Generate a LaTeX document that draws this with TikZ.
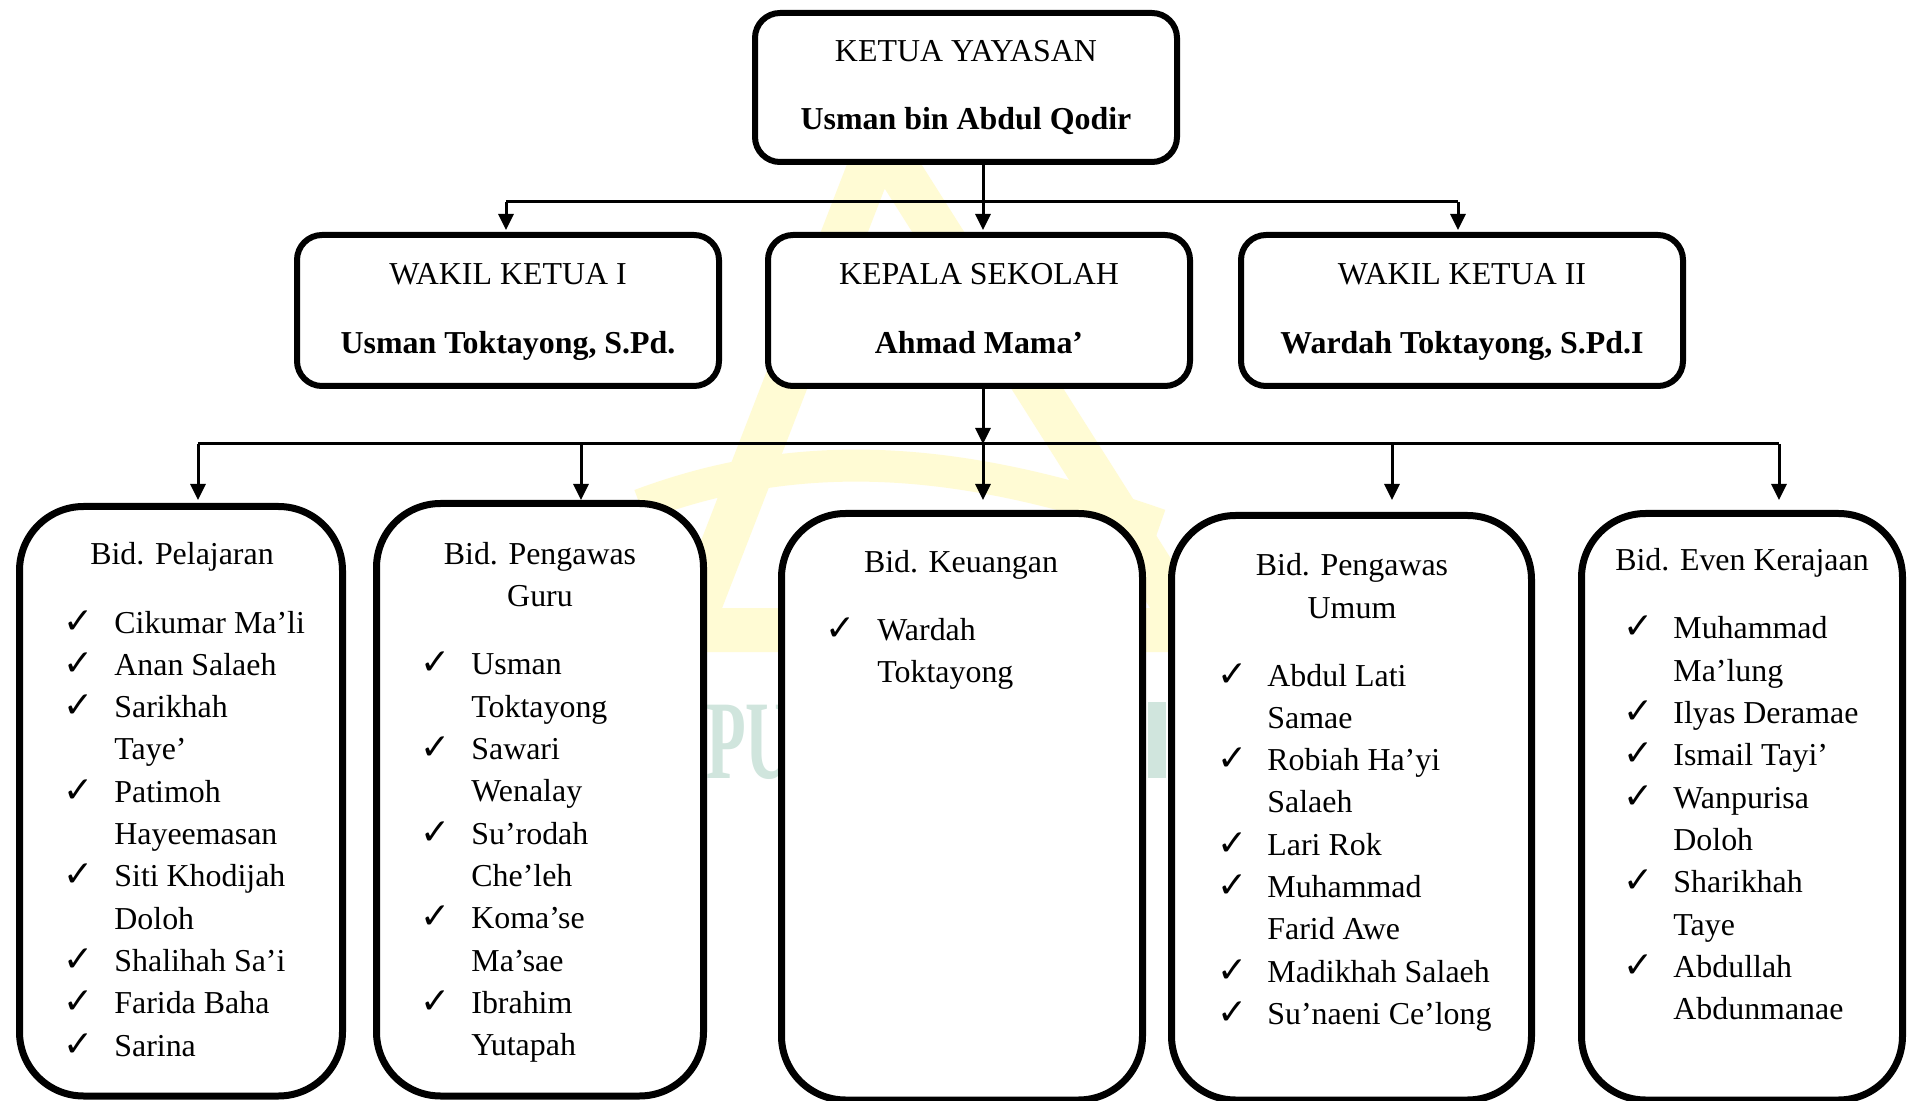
\documentclass[tikz,border=0pt]{standalone}
\usepackage{fontspec}
\setmainfont{Liberation Serif}
\newfontfamily\symf{DejaVu Sans}
\usetikzlibrary{arrows.meta,fit}
\definecolor{wmyellow}{RGB}{255,251,212}
\definecolor{wmteal}{RGB}{208,229,221}
\tikzset{
  box/.style={draw, line width=3pt, rounded corners=12.5pt, fill=white, inner sep=0pt, outer sep=0pt},
  bbox/.style={box, line width=3.5pt, rounded corners=32pt},
  conn/.style={line width=1.5pt},
  arr/.style={conn, -{Triangle[length=8pt,width=7.5pt]}},
  lbl/.style={anchor=base, inner sep=0pt},
  itm/.style={anchor=base west, inner sep=0pt},
  chk/.style={anchor=base west, inner sep=0pt, font=\fontsize{18}{18}\symf},
}
\newcommand\blist[5]{%
  \foreach \c/\t [count=\i] in {#5} {
    \pgfmathsetmacro\yy{#4+(\i-1)*42.3}
    \node[itm] (#1t\i) at (#3,\yy) {\t};
    \ifnum\c=1 \node[chk] (#1c\i) at (#2-4,\yy) {✓};\fi
  }}
\begin{document}
\begin{tikzpicture}[x=0.5pt,y=-0.5pt,font=\fontsize{15.95}{19}\selectfont]
\fill[white] (0,0) rectangle (1918,1101);
\useasboundingbox (0,0) rectangle (1918,1101);
% watermark
\draw[wmyellow, line width=22pt, line join=round] (880,140) -- (1190,630) -- (690,630) -- cycle;
\draw[wmyellow, line width=16pt] (640,505) .. controls (800,445) and (960,455) .. (1160,525);
\node[anchor=base west, inner sep=0pt, text=wmteal, font=\bfseries\fontsize{56}{56}\selectfont, xscale=0.58] (wm) at (706,778) {PU};
\fill[wmteal] (1148,702) rectangle (1166,778);
% connectors level 1
\coordinate (c0) at (983,202);
\coordinate (cL) at (506,202);
\coordinate (cR) at (1458,202);
% boxes top + middle
\node[box, fit={(755,13) (1177,162)}] (top) {};
\node[box, fit={(297,235) (719,386)}] (wk1) {};
\node[box, fit={(768,235) (1190,386)}] (kep) {};
\node[box, fit={(1241,235) (1683,386)}] (wk2) {};
\draw[conn] (cL) -- (cR);
\draw[arr, shorten >=2.5pt] (top.south -| c0) -- (kep.north -| c0);
\draw[arr, shorten >=2.5pt] (cL) -- (wk1.north -| cL);
\draw[arr, shorten >=2.5pt] (cR) -- (wk2.north -| cR);
% level 2
\coordinate (d0) at (983,444);
\coordinate (dA) at (198,444);
\coordinate (dB) at (581,444);
\coordinate (dD) at (1392,444);
\coordinate (dE) at (1779,444);
\node[bbox, fit={(19.5,506.5) (342.5,1096)}] (b1) {};
\node[bbox, fit={(376.5,503.5) (703.5,1096)}] (b2) {};
\node[bbox, fit={(781.5,513.5) (1142.5,1100)}] (b3) {};
\node[bbox, fit={(1171.5,515.5) (1531.5,1100)}] (b4) {};
\node[bbox, fit={(1581.5,513.5) (1902.5,1100)}] (b5) {};
\draw[conn] (dA) -- (dE);
\draw[arr] (kep.south -| d0) -- (d0);
\draw[arr, shorten >=6.75pt] (d0) -- (b3.north -| d0);
\draw[arr, shorten >=3.25pt] (dA) -- (b1.north -| dA);
\draw[arr, shorten >=1.75pt] (dB) -- (b2.north -| dB);
\draw[arr, shorten >=7.75pt] (dD) -- (b4.north -| dD);
\draw[arr, shorten >=6.75pt] (dE) -- (b5.north -| dE);
% texts top
\node[lbl] (topa) at (966,62) {KETUA YAYASAN};
\node[lbl] (topb) at (966,130) {\bfseries Usman bin Abdul Qodir};
\node[lbl] (wk1a) at (508,285) {WAKIL KETUA I};
\node[lbl] (wk1b) at (508,354) {\bfseries Usman Toktayong, S.Pd.};
\node[lbl] (kepa) at (979,285) {KEPALA SEKOLAH};
\node[lbl] (kepb) at (979,354) {\bfseries Ahmad Mama’};
\node[lbl] (wk2a) at (1462,285) {WAKIL KETUA II};
\node[lbl] (wk2b) at (1462,354) {\bfseries Wardah Toktayong, S.Pd.I};
% bottom titles
\node[lbl] (b1h) at (182,565) {Bid. Pelajaran};
\node[lbl] (b2h) at (540,565) {Bid. Pengawas};
\node[lbl] (b2h2) at (540,606) {Guru};
\node[lbl] (b3h) at (961,573) {Bid. Keuangan};
\node[lbl] (b4h) at (1352,575) {Bid. Pengawas};
\node[lbl] (b4h2) at (1352,618) {Umum};
\node[lbl] (b5h) at (1742,571) {Bid. Even Kerajaan};
% lists
\blist{p}{67}{114}{633}{1/Cikumar Ma’li, 1/Anan Salaeh, 1/Sarikhah, 0/Taye’, 1/Patimoh, 0/Hayeemasan, 1/Siti Khodijah, 0/Doloh, 1/Shalihah Sa’i, 1/Farida Baha, 1/Sarina}
\blist{g}{424}{471}{675}{1/Usman, 0/Toktayong, 1/Sawari, 0/Wenalay, 1/Su’rodah, 0/Che’leh, 1/Koma’se, 0/Ma’sae, 1/Ibrahim, 0/Yutapah}
\blist{k}{829}{877}{640}{1/Wardah, 0/Toktayong}
\blist{u}{1221}{1267}{686}{1/Abdul Lati, 0/Samae, 1/Robiah Ha’yi, 0/Salaeh, 1/Lari Rok, 1/Muhammad, 0/Farid Awe, 1/Madikhah Salaeh, 1/Su’naeni Ce’long}
\blist{e}{1627}{1673}{639}{1/Muhammad, 0/Ma’lung, 1/Ilyas Deramae, 1/Ismail Tayi’, 1/Wanpurisa, 0/Doloh, 1/Sharikhah, 0/Taye, 1/Abdullah, 0/Abdunmanae}
\end{tikzpicture}
\end{document}
